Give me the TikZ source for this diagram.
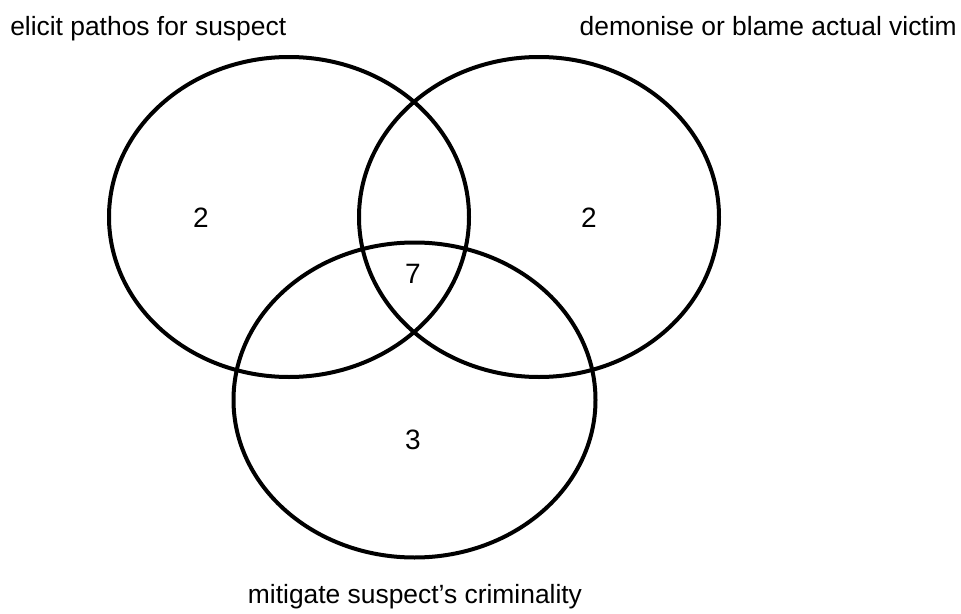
\documentclass[tikz,border=0pt]{standalone}
\usepackage{fontspec}
\setmainfont{Liberation Sans}
\usepackage{tikz}

\begin{document}
\begin{tikzpicture}[x=0.75pt, y=-0.75pt,
    vset/.style={line width=3pt, black},
    lbl/.style={font=\fontsize{19.8}{23}\selectfont, inner sep=0pt},
    num/.style={font=\fontsize{21}{25}\selectfont, inner sep=0pt}]
  \useasboundingbox (0,0) rectangle (961,614);
  % the three sets
  \draw[vset] (289,217) ellipse [x radius=180, y radius=160];
  \draw[vset] (539,217) ellipse [x radius=180, y radius=160];
  \draw[vset] (414.5,400) ellipse [x radius=181, y radius=157.5];
  % set names
  \node[lbl, anchor=base west] (pathos) at (10,36) {elicit pathos for suspect};
  \node[lbl, anchor=base east] (victim) at (957,36) {demonise or blame actual victim};
  \node[lbl, anchor=base] (mitigate) at (415,603) {mitigate suspect’s criminality};
  % counts
  \node[num] (nPathos) at (201,218) {2};
  \node[num] (nVictim) at (589,218) {2};
  \node[num] (nAll) at (413,274) {7};
  \node[num] (nMitigate) at (413,440) {3};
\end{tikzpicture}
\end{document}
